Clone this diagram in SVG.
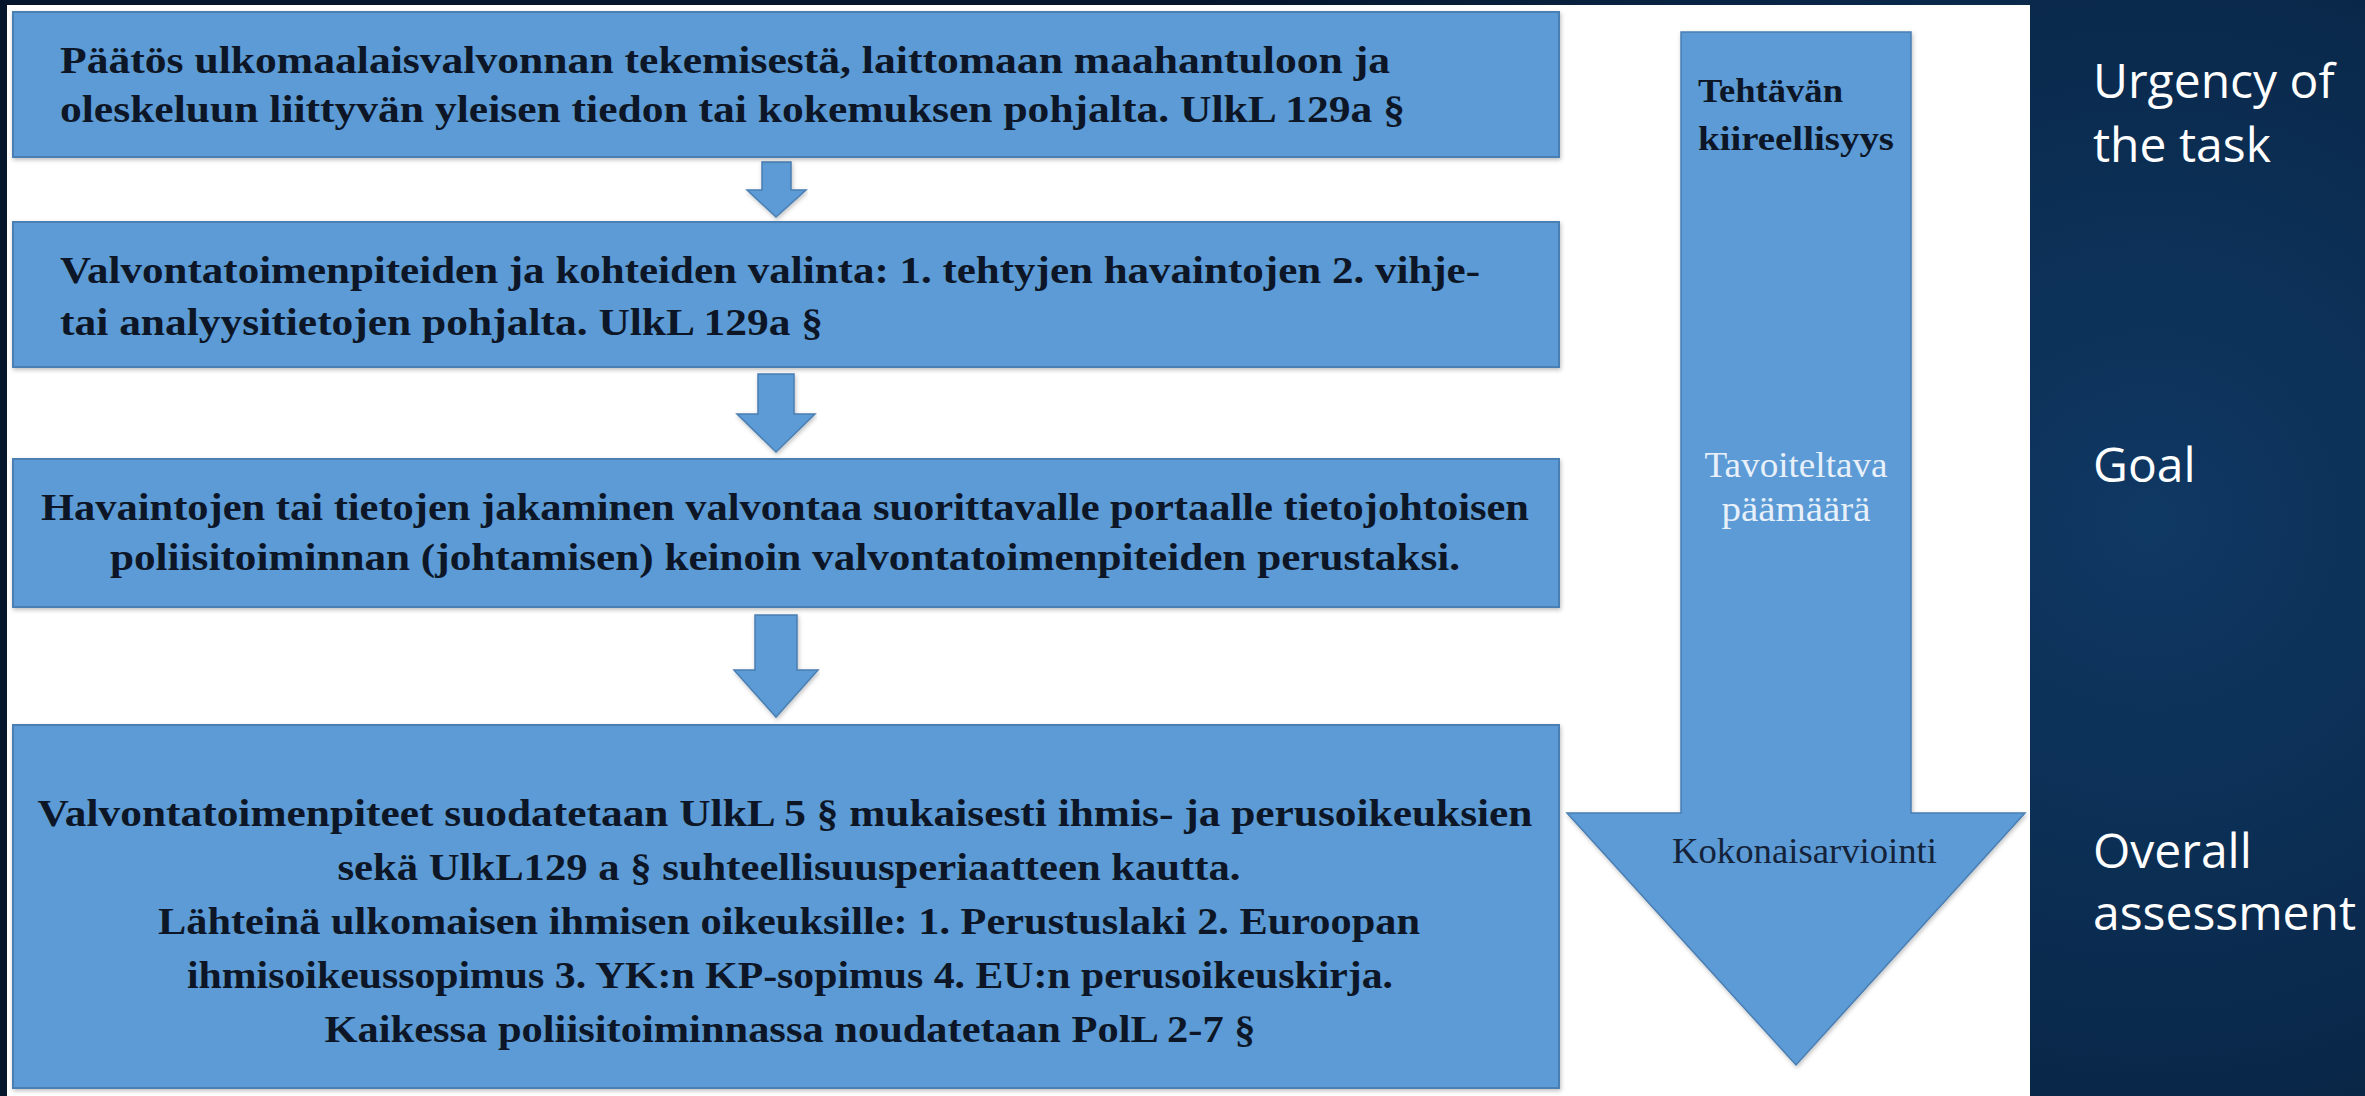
<svg xmlns="http://www.w3.org/2000/svg" width="2365" height="1096" viewBox="0 0 2365 1096">
  <defs>
    <radialGradient id="bg" cx="2150" cy="520" r="1100" gradientUnits="userSpaceOnUse">
      <stop offset="0" stop-color="#0f3863"/>
      <stop offset="0.45" stop-color="#0a2a4d"/>
      <stop offset="1" stop-color="#05152b"/>
    </radialGradient>
    <filter id="sh" x="-2%" y="-5%" width="104%" height="112%">
      <feDropShadow dx="1" dy="2" stdDeviation="2" flood-color="#000" flood-opacity="0.25"/>
    </filter>
  </defs>
  <style>
    .box { fill: #5b9bd5; stroke: #4a7fb3; stroke-width: 2; filter: url(#sh); }
    .arr { fill: #5b9bd5; stroke: #4a7fb3; stroke-width: 1.5; filter: url(#sh); }
    .bt { font-family: "Liberation Serif", "DejaVu Serif", serif; font-weight: bold; font-size: 38px; fill: #0d1626; }
    .bt4 { font-family: "Liberation Serif", "DejaVu Serif", serif; font-weight: bold; font-size: 37px; fill: #0d1626; }
    .ah { font-family: "Liberation Serif", "DejaVu Serif", serif; font-weight: bold; font-size: 34px; fill: #0d1626; }
    .al { font-family: "Liberation Serif", "DejaVu Serif", serif; font-size: 35px; fill: #e8f0fa; }
    .ak { font-family: "Liberation Serif", "DejaVu Serif", serif; font-size: 35px; fill: #14233a; }
    .side { font-family: "Open Sans", "Noto Sans", "Liberation Sans", sans-serif; font-size: 48px; fill: #ffffff; }
  </style>

  <rect x="0" y="0" width="2365" height="1096" fill="url(#bg)"/>
  <rect x="7" y="5" width="2023" height="1091" fill="#ffffff"/>

  <g id="connectors">
    <polygon class="arr" points="762,162 791,162 791,190 806,190 776,217 747,190 762,190"/>
    <polygon class="arr" points="758,374 794,374 794,414 815,414 776,452 737,414 758,414"/>
    <polygon class="arr" points="755,615 797,615 797,670 818,670 776,717 734,670 755,670"/>
  </g>

  <g id="node1">
    <rect class="box" x="13" y="12" width="1546" height="145"/>
    <text class="bt" x="60" y="73" textLength="1330" lengthAdjust="spacingAndGlyphs">Päätös ulkomaalaisvalvonnan tekemisestä, laittomaan maahantuloon ja</text>
    <text class="bt" x="60" y="122" textLength="1345" lengthAdjust="spacingAndGlyphs">oleskeluun liittyvän yleisen tiedon tai kokemuksen pohjalta. UlkL 129a §</text>
  </g>

  <g id="node2">
    <rect class="box" x="13" y="222" width="1546" height="145"/>
    <text class="bt" x="60" y="283" textLength="1420" lengthAdjust="spacingAndGlyphs">Valvontatoimenpiteiden ja kohteiden valinta: 1. tehtyjen havaintojen 2. vihje-</text>
    <text class="bt" x="60" y="335" textLength="763" lengthAdjust="spacingAndGlyphs">tai analyysitietojen pohjalta. UlkL 129a §</text>
  </g>

  <g id="node3">
    <rect class="box" x="13" y="459" width="1546" height="148"/>
    <text class="bt" x="785" y="520" text-anchor="middle" textLength="1488" lengthAdjust="spacingAndGlyphs">Havaintojen tai tietojen jakaminen valvontaa suorittavalle portaalle tietojohtoisen</text>
    <text class="bt" x="785" y="570" text-anchor="middle" textLength="1350" lengthAdjust="spacingAndGlyphs">poliisitoiminnan (johtamisen) keinoin valvontatoimenpiteiden perustaksi.</text>
  </g>

  <g id="node4">
    <rect class="box" x="13" y="725" width="1546" height="363"/>
    <text class="bt4" x="785" y="826" text-anchor="middle" textLength="1495" lengthAdjust="spacingAndGlyphs">Valvontatoimenpiteet suodatetaan UlkL 5 § mukaisesti ihmis- ja perusoikeuksien</text>
    <text class="bt4" x="789" y="880" text-anchor="middle" textLength="903" lengthAdjust="spacingAndGlyphs">sekä UlkL129 a § suhteellisuusperiaatteen kautta.</text>
    <text class="bt4" x="789" y="934" text-anchor="middle" textLength="1262" lengthAdjust="spacingAndGlyphs">Lähteinä ulkomaisen ihmisen oikeuksille: 1. Perustuslaki 2. Euroopan</text>
    <text class="bt4" x="790" y="988" text-anchor="middle" textLength="1206" lengthAdjust="spacingAndGlyphs">ihmisoikeussopimus 3. YK:n KP-sopimus 4. EU:n perusoikeuskirja.</text>
    <text class="bt4" x="790" y="1042" text-anchor="middle" textLength="931" lengthAdjust="spacingAndGlyphs">Kaikessa poliisitoiminnassa noudatetaan PolL 2-7 §</text>
  </g>

  <g id="bigArrow">
    <polygon class="arr" points="1681,32 1911,32 1911,813 2025,813 1796,1065 1567,813 1681,813"/>
    <text class="ah" x="1698" y="102" textLength="145" lengthAdjust="spacingAndGlyphs">Tehtävän</text>
    <text class="ah" x="1698" y="150" textLength="196" lengthAdjust="spacingAndGlyphs">kiireellisyys</text>
    <text class="al" x="1796" y="477" text-anchor="middle" textLength="183" lengthAdjust="spacingAndGlyphs">Tavoiteltava</text>
    <text class="al" x="1796" y="521" text-anchor="middle" textLength="149" lengthAdjust="spacingAndGlyphs">päämäärä</text>
    <text class="ak" x="1672" y="863" textLength="265" lengthAdjust="spacingAndGlyphs">Kokonaisarviointi</text>
  </g>

  <g id="labels">
    <text class="side" x="2093" y="98">Urgency of</text>
    <text class="side" x="2093" y="162">the task</text>
    <text class="side" x="2093" y="482">Goal</text>
    <text class="side" x="2093" y="868">Overall</text>
    <text class="side" x="2093" y="930">assessment</text>
  </g>
</svg>
